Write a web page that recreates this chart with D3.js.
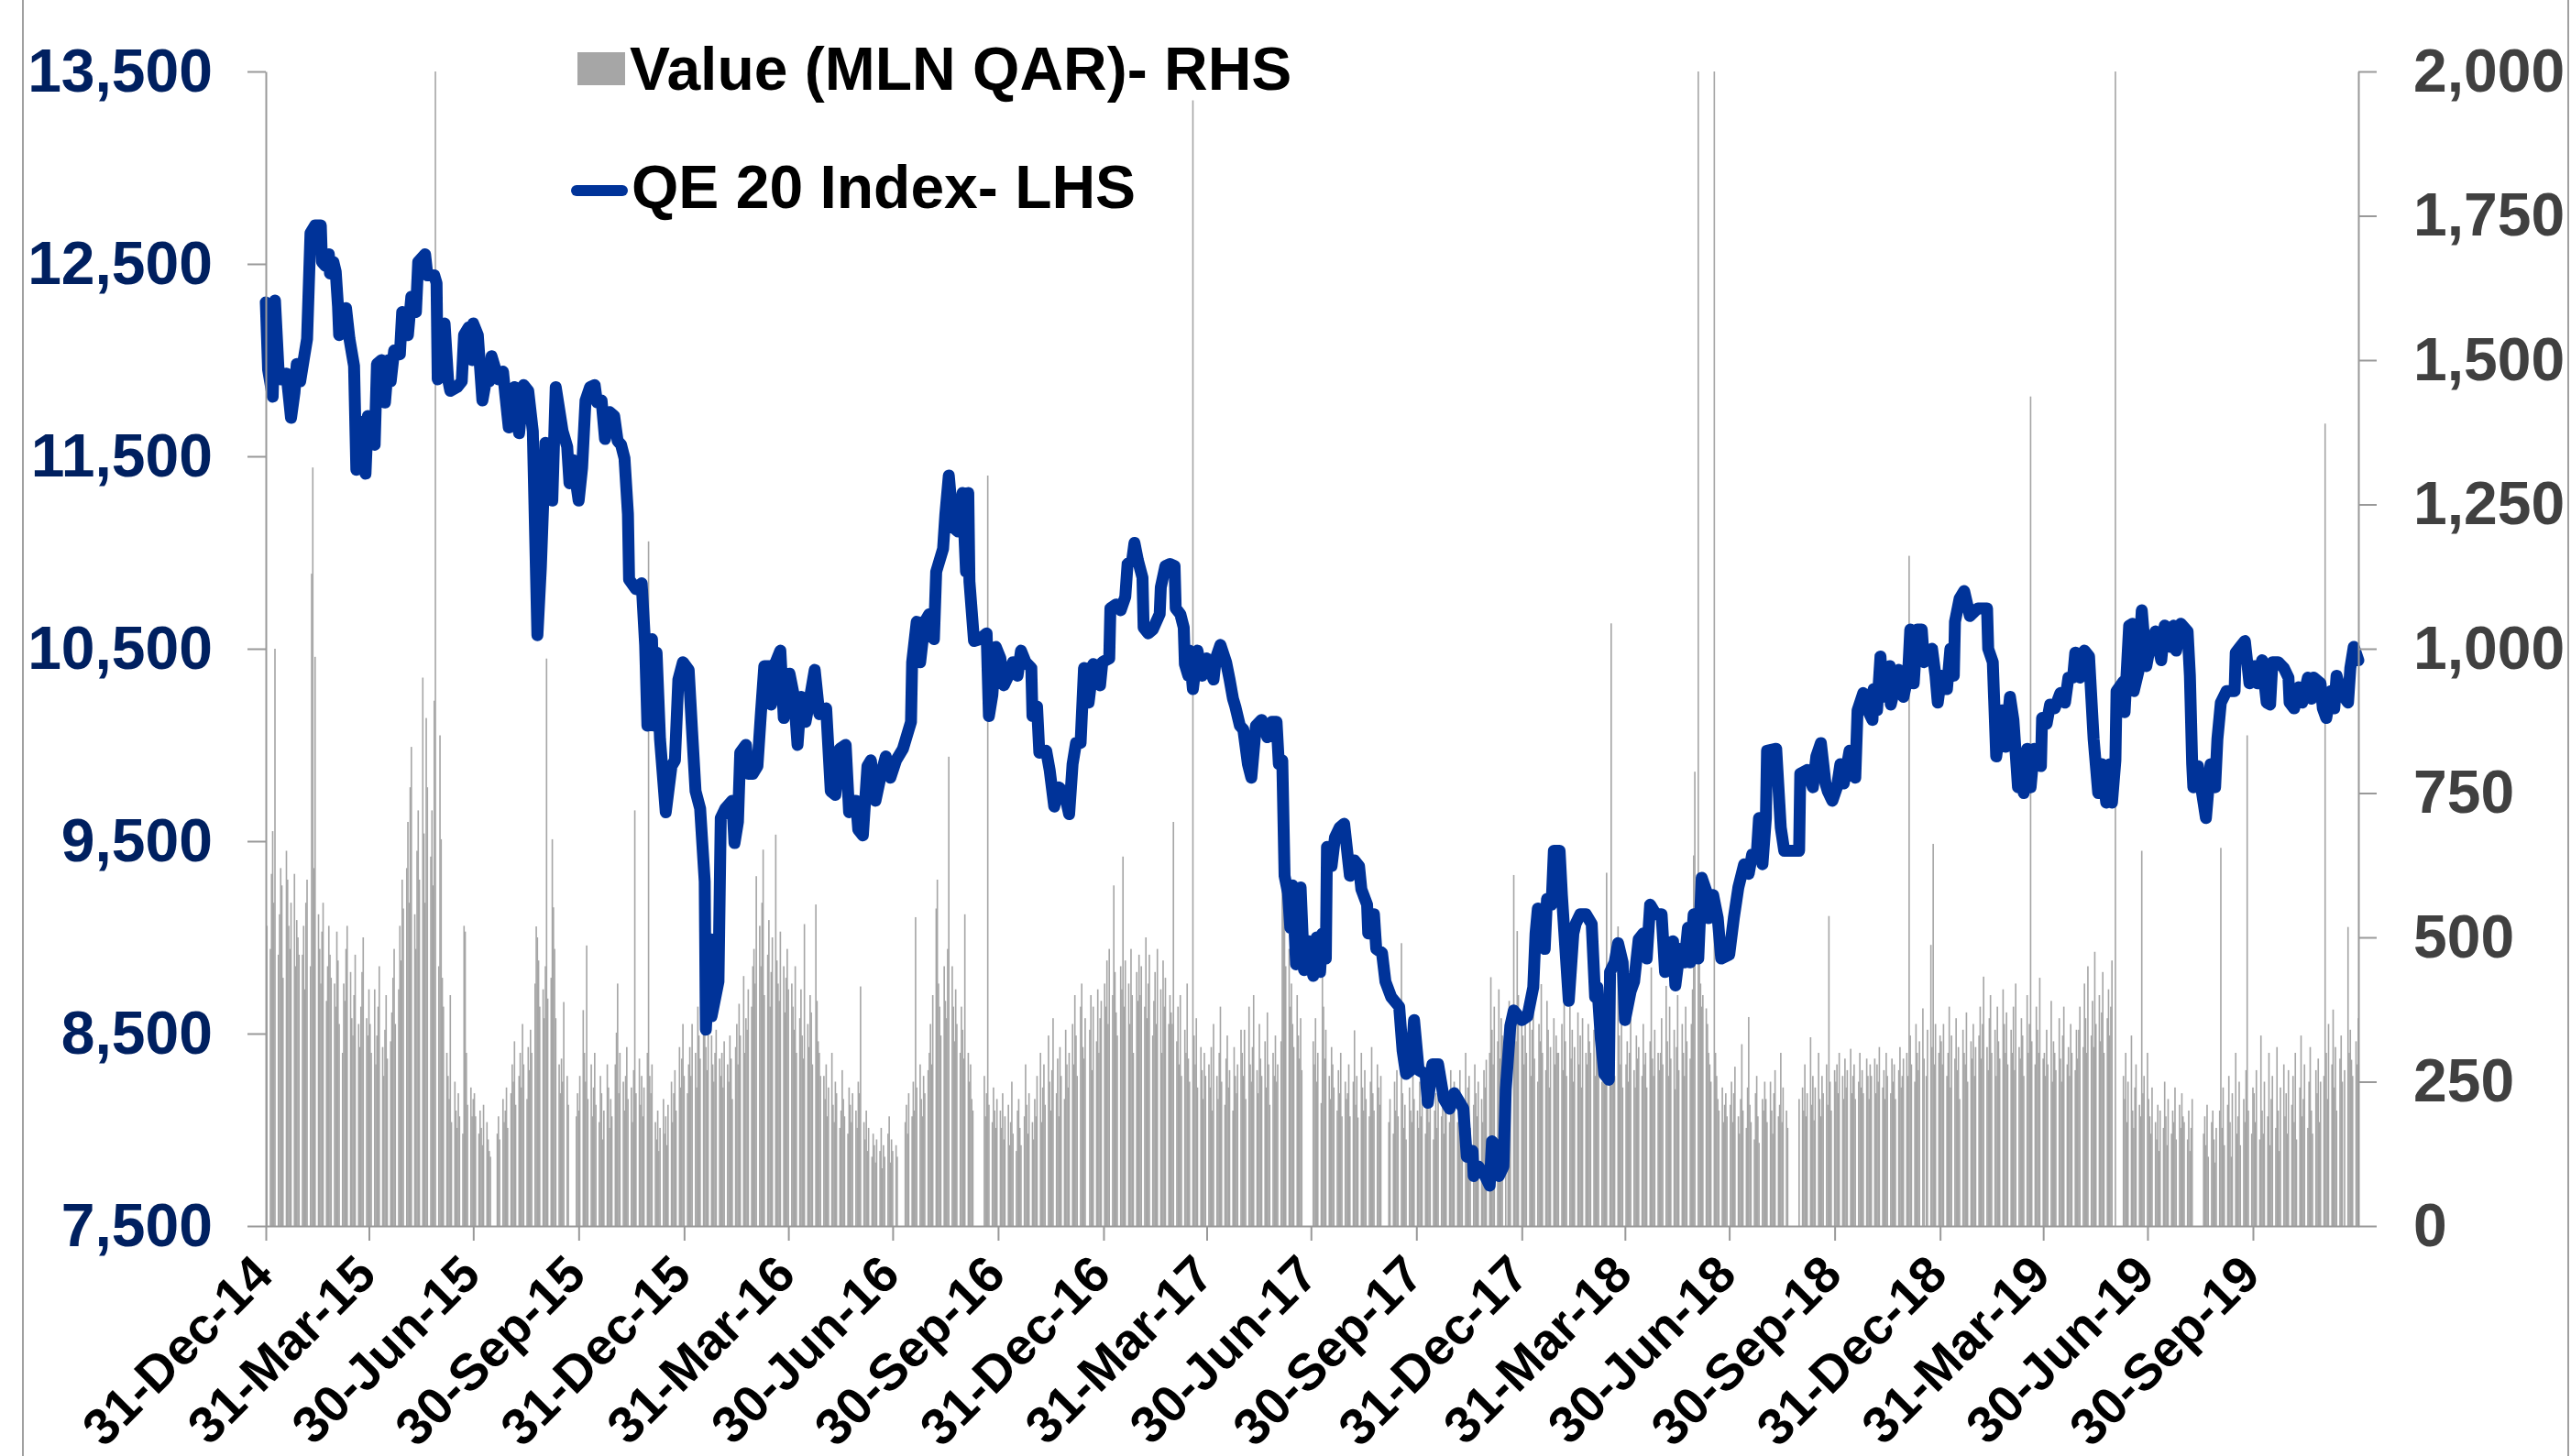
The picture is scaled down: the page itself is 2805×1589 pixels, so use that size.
<!DOCTYPE html>
<html>
<head>
<meta charset="utf-8">
<script src="https://cdn.jsdelivr.net/npm/d3@7"></script>
<style>
  body { margin: 0; background: #fff; }
  svg { display: block; }
</style>
</head>
<body>
<svg width="2805" height="1589"></svg>
<script>
// QE 20 index vs traded value, daily, 31-Dec-14 .. 31-Dec-19

const startDate = new Date(2014, 11, 31);
const endDate = new Date(2019, 11, 31);

const leftTicks = [7500, 8500, 9500, 10500, 11500, 12500, 13500];
const rightTicks = [0, 250, 500, 750, 1000, 1250, 1500, 1750, 2000];
const quarterTicks = [
  '2014-12-31', '2015-03-31', '2015-06-30', '2015-09-30', '2015-12-31',
  '2016-03-31', '2016-06-30', '2016-09-30', '2016-12-31',
  '2017-03-31', '2017-06-30', '2017-09-30', '2017-12-31',
  '2018-03-31', '2018-06-30', '2018-09-30', '2018-12-31',
  '2019-03-31', '2019-06-30', '2019-09-30'
];

const legendLabels = ['Value (MLN QAR)- RHS', 'QE 20 Index- LHS'];

// [days after 31-Dec-14, index level]
const qeIndex = [
  [0,12300],[2,11950],[6,11810],[8,12310],[11,11960],[13,11900],[15,11910],[18,11930],[22,11700],[25,11830],
  [27,11980],[30,11890],[33,12000],[36,12110],[39,12660],[43,12700],[48,12700],[49,12510],[52,12490],[55,12550],
  [56,12450],[59,12510],[61,12460],[63,12280],[64,12130],[67,12200],[70,12270],[73,12110],[77,11970],[79,11430],
  [82,11680],[84,11520],[87,11410],[89,11710],[92,11600],[95,11560],[97,11980],[101,12000],[104,11780],[107,12000],
  [109,11890],[112,12050],[117,12030],[119,12250],[124,12130],[127,12330],[131,12250],[133,12510],[139,12550],[141,12440],
  [147,12440],[149,12400],[150,11900],[152,12140],[156,12190],[159,11900],[161,11840],[167,11860],[171,11890],[173,12130],
  [177,12170],[180,12000],[181,12190],[185,12130],[189,11790],[192,11890],[195,11890],[197,12020],[203,11900],[207,11940],
  [209,11820],[212,11650],[217,11860],[221,11620],[225,11870],[229,11840],[233,11630],[237,10570],[240,10920],[244,11570],
  [248,11330],[250,11270],[253,11860],[259,11630],[263,11550],[265,11360],[268,11480],[273,11270],[276,11440],[279,11790],
  [283,11860],[287,11870],[289,11780],[293,11790],[296,11590],[300,11730],[304,11710],[307,11580],[310,11560],[313,11490],
  [316,11200],[317,10860],[323,10810],[328,10840],[331,10520],[333,10100],[337,10550],[339,10100],[341,10480],[344,10030],
  [349,9650],[354,9890],[357,9920],[360,10340],[364,10430],[369,10390],[372,10070],[375,9760],[379,9670],[383,9290],
  [384,8520],[388,8990],[389,8590],[395,8770],[397,9620],[401,9670],[407,9710],[409,9490],[412,9600],[414,9960],
  [419,10000],[421,9850],[425,9850],[429,9890],[432,10160],[435,10410],[440,10410],[441,10210],[445,10430],[449,10490],
  [452,10140],[457,10370],[461,10250],[464,10000],[467,10250],[471,10120],[475,10250],[479,10390],[483,10160],[489,10190],
  [493,9760],[497,9740],[501,9980],[506,10000],[509,9650],[515,9710],[517,9560],[521,9530],[525,9890],[528,9920],
  [532,9710],[537,9850],[541,9940],[545,9830],[550,9920],[556,9980],[563,10120],[564,10430],[568,10640],[571,10430],
  [575,10640],[579,10680],[583,10550],[585,10900],[591,11020],[593,11200],[596,11400],[600,11130],[604,11110],[608,11310],
  [611,10900],[613,11310],[614,10850],[618,10540],[623,10550],[629,10580],[631,10150],[634,10260],[637,10510],[641,10450],
  [644,10310],[648,10360],[652,10430],[656,10360],[659,10490],[663,10430],[668,10400],[669,10150],[673,10200],[675,9960],
  [681,9970],[684,9870],[688,9680],[692,9780],[697,9750],[701,9640],[704,9900],[707,10010],[711,10010],[714,10400],
  [718,10220],[722,10420],[728,10310],[730,10430],[736,10450],[737,10710],[742,10730],[746,10700],[750,10770],[752,10940],
  [756,10960],[758,11050],[761,10960],[765,10870],[766,10610],[770,10580],[774,10600],[780,10680],[781,10820],[785,10930],
  [789,10940],[793,10930],[794,10710],[798,10680],[801,10610],[802,10420],[805,10360],[806,10490],[809,10290],[813,10490],
  [817,10360],[821,10450],[827,10340],[829,10450],[833,10520],[838,10430],[841,10340],[844,10240],[846,10200],[850,10100],
  [853,10080],[857,9900],[860,9830],[864,10100],[869,10130],[874,10040],[878,10120],[882,10120],[884,9900],[887,9920],
  [889,9320],[892,9230],[894,9050],[896,9270],[899,8860],[903,9260],[906,8830],[910,8980],[914,8800],[917,9000],
  [920,8820],[922,9020],[925,8890],[926,9470],[930,9370],[933,9520],[937,9570],[941,9590],[946,9320],[950,9400],
  [954,9370],[956,9250],[961,9170],[962,9020],[967,9120],[969,8940],[974,8920],[977,8770],[982,8690],[989,8640],
  [992,8410],[995,8290],[999,8310],[1002,8570],[1006,8310],[1012,8290],[1014,8140],[1018,8340],[1023,8340],[1028,8160],
  [1033,8110],[1037,8190],[1045,8110],[1048,7860],[1053,7890],[1054,7760],[1058,7810],[1064,7760],[1068,7710],[1070,7940],
  [1074,7910],[1076,7760],[1080,7810],[1082,8210],[1086,8540],[1089,8620],[1096,8570],[1101,8590],[1106,8740],[1108,9020],
  [1110,9150],[1116,8940],[1118,9200],[1122,9170],[1124,9450],[1129,9450],[1131,9220],[1137,8670],[1141,9020],[1143,9070],
  [1147,9120],[1152,9120],[1157,9070],[1160,8690],[1162,8740],[1165,8470],[1168,8290],[1172,8260],[1173,8820],[1177,8870],
  [1180,8970],[1184,8870],[1186,8570],[1191,8720],[1194,8770],[1198,8990],[1202,9020],[1205,8890],[1208,9170],[1213,9120],
  [1218,9120],[1221,8820],[1225,8970],[1228,8980],[1230,8750],[1234,8940],[1238,8870],[1241,9050],[1243,8870],[1246,9120],
  [1250,8890],[1253,9310],[1257,9240],[1259,9100],[1263,9220],[1267,9100],[1270,8890],[1277,8910],[1281,9100],[1285,9260],
  [1290,9380],[1294,9330],[1297,9430],[1301,9430],[1303,9620],[1306,9380],[1309,9620],[1310,9970],[1318,9980],[1322,9570],
  [1325,9450],[1338,9450],[1339,9850],[1345,9870],[1350,9780],[1353,9940],[1357,10010],[1361,9800],[1363,9760],[1367,9710],
  [1371,9780],[1374,9900],[1377,9800],[1382,9970],[1387,9830],[1389,10180],[1394,10270],[1398,10180],[1402,10130],[1403,10290],
  [1406,10180],[1409,10460],[1411,10250],[1417,10410],[1418,10210],[1425,10390],[1429,10250],[1433,10360],[1435,10600],[1438,10320],
  [1441,10600],[1445,10600],[1447,10430],[1454,10500],[1457,10360],[1459,10220],[1462,10360],[1467,10290],[1470,10500],[1473,10360],
  [1474,10640],[1478,10760],[1482,10800],[1487,10670],[1494,10710],[1502,10710],[1503,10500],[1507,10430],[1510,9940],[1515,10180],
  [1518,9990],[1522,10250],[1525,10130],[1529,9780],[1532,9900],[1534,9750],[1537,9980],[1540,9780],[1543,9980],[1549,9890],
  [1550,10140],[1554,10110],[1557,10210],[1561,10190],[1566,10270],[1570,10220],[1573,10350],[1577,10350],[1579,10480],[1583,10350],
  [1587,10490],[1591,10460],[1595,10030],[1599,9750],[1602,9900],[1606,9700],[1609,9900],[1611,9700],[1614,9920],[1615,10280],
  [1621,10330],[1622,10170],[1626,10620],[1629,10630],[1630,10280],[1634,10380],[1637,10700],[1641,10410],[1645,10540],[1649,10590],
  [1654,10440],[1657,10620],[1662,10510],[1665,10620],[1667,10490],[1671,10630],[1677,10590],[1679,10360],[1681,9900],[1682,9780],
  [1686,9890],[1693,9620],[1697,9900],[1701,9780],[1703,10030],[1706,10220],[1711,10280],[1718,10280],[1719,10480],[1723,10510],
  [1727,10540],[1731,10320],[1735,10410],[1738,10320],[1742,10440],[1746,10220],[1749,10210],[1751,10430],[1756,10430],[1761,10400],
  [1765,10350],[1766,10220],[1770,10190],[1774,10300],[1777,10220],[1782,10350],[1785,10240],[1787,10350],[1793,10320],[1795,10190],
  [1798,10140],[1802,10280],[1805,10190],[1807,10360],[1811,10270],[1817,10220],[1819,10400],[1822,10510],[1826,10440]
];

// traded value, MLN QAR, one list per month (Sun-Thu sessions in order), Jan-15 .. Dec-19
const valueByMonth = [
  [520,480,610,684,560,1000,470,540,620,590,430,650,600,520,480,560,610,450,530,500,470],
  [470,520,410,560,600,450,1130,1314,620,986,540,480,420,510,560,390,450,520,470,430],
  [420,380,510,460,350,300,420,390,480,520,440,360,330,400,470,350,310,380,440,500,360,330,410],
  [350,300,410,280,330,380,450,310,260,340,400,290,320,370,430,480,350,410,520,460,600,550],
  [620,700,560,760,830,540,480,650,720,600,950,680,560,880,760,640,720,590,910,2600,450],
  [850,670,430,380,300,260,220,400,180,250,200,170,230,190,160,520,510,300,210,240,190,220],
  [230,190,160,200,170,140,210,180,150,130,120,0,0,0,160,190,150,220,180,200,240,170],
  [230,280,250,320,210,260,300,240,350,280,220,310,270,340,300,420,519,500,460,380,410,360],
  [450,983,394,430,670,552,480,360,280,230,290,250,388,260,210,0,0,0,0,190,230,200],
  [260,374,300,250,486,220,280,190,240,300,210,180,260,230,150,200,280,240,170,220,190],
  [280,335,420,230,300,250,200,260,310,220,240,180,270,720,230,290,210,260,190,240,300,1186],
  [260,230,280,180,150,200,130,170,220,160,190,140,210,250,180,230,270,200,310,240,290,350,260],
  [230,280,310,260,350,300,240,380,330,290,397,350,310,270,360,330,280,250,300,340,290],
  [260,300,240,320,280,250,330,290,220,310,350,280,385,330,433,300,360,340,410,380,450],
  [480,420,606,520,450,560,652,400,470,530,380,440,500,678,460,420,390,510,450,370,430,480,410],
  [420,380,340,450,300,360,410,330,290,523,350,310,400,370,280,557,390,320,300,260],
  [260,220,280,190,240,300,210,180,250,230,170,200,270,220,190,160,240,210,180,230,200,170,250],
  [230,415,180,150,200,130,170,120,160,140,110,150,130,170,100,140,120,160,190,110,150,130],
  [140,120,0,0,0,0,180,210,160,230,190,250,200,535,240,280,220,190,260,230,270],
  [300,350,280,400,550,600,420,380,330,450,390,360,480,813,450,380,320,410,350,300,380,340,290],
  [540,300,250,280,220,200,0,0,0,0,0,260,190,230,1300,210,180,240,200,170,220],
  [200,170,230,150,190,210,140,180,250,160,130,200,220,170,140,190,280,210,160,230,180,150],
  [220,190,260,300,180,240,280,210,330,250,200,270,360,230,290,190,310,260,220,340,280,240],
  [300,350,280,400,330,260,380,420,310,290,360,0,340,400,270,380,320,410,300,360,390],
  [420,380,460,350,480,400,590,440,370,330,450,410,640,380,460,420,350,480,400,300,440,390,470],
  [400,450,380,500,360,420,470,330,390,440,350,480,410,300,460,380,430,350,400,370],
  [350,700,320,380,280,400,260,340,300,420,290,250,1950,330,280,360,240,310,270,220,300,260],
  [280,240,310,200,350,260,220,300,380,250,210,290,330,240,270,200,310,260,230,280,340],
  [300,260,340,220,380,280,250,310,400,270,230,350,290,260,320,240,370,280,210,300,260,330,250],
  [280,320,850,700,520,450,480,380,420,350,310,400,330,290,360,270,0,0,0,0,0],
  [320,280,360,250,300,213,431,380,290,340,260,220,310,280,240,200,270,230,300,190,250,220],
  [230,280,190,250,339,210,260,188,300,240,200,270,220,190,250,310,230,200,280,240,210,260,0],
  [0,0,0,180,220,160,250,200,270,190,490,230,170,210,150,240,200,180,260,220],
  [200,170,250,190,220,160,280,210,180,240,150,200,230,170,260,190,210,160,250,220,180,270,200],
  [210,250,180,230,270,160,220,300,190,240,260,170,210,280,230,190,250,220,180,270,240,288],
  [300,431,340,280,380,320,410,290,360,330,300,0,350,390,280,608,370,320,511,400,350],
  [330,280,360,300,410,260,340,380,290,250,350,320,419,300,270,390,340,240,310,360,280,330,300],
  [300,350,270,400,320,260,380,290,340,250,310,370,280,330,240,360,300,280,350,320],
  [300,340,260,380,290,320,250,400,280,310,612,270,1044,350,300,260,519,330,280,360,240],
  [280,320,250,300,360,270,240,330,290,310,260,350,280,300,240,320,448,290,260,340,300,270],
  [300,360,280,416,320,260,380,290,340,237,310,400,270,350,300,260,380,320,290,350,410,642,787],
  [2400,455,420,380,400,377,350,300,280,250,2400,300,260,220,200,240,180,210,230,190],
  [210,250,180,230,276,190,160,220,315,200,170,240,362,210,180,150,230,260,190,144,220,200,250],
  [220,180,250,200,160,230,270,190,210,300,180,240,200,170,0,0,0,0,0,0,0,220],
  [240,200,280,190,230,327,210,260,183,240,300,220,190,260,230,280,210,537,250,200,270],
  [250,280,230,300,260,220,290,240,270,307,230,260,280,220,250,300,240,270,230,290,260,220,280],
  [260,290,230,280,250,310,240,270,220,300,260,230,290,250,280,220,270,310,240,260,290],
  [300,260,1161,330,280,250,350,300,270,320,377,290,0,260,340,487,310,662,280,350,300,330],
  [320,280,350,260,300,380,240,330,290,360,270,310,220,340,300,280,370,250,320,290,350,260,310],
  [330,380,290,350,432,310,270,360,400,300,340,260,380,320,290,410,350,300,370,280],
  [340,300,380,270,420,310,290,360,330,260,400,300,350,1437,320,280,380,340,300,430,290],
  [300,260,340,280,390,250,320,300,270,360,290,250,330,380,280,310,260,350,300,270,340,290],
  [340,380,310,420,360,300,450,330,390,310,475,350,400,320,370,440,300,360,410,330,380,460],
  [2400,0,0,0,0,260,220,300,180,250,330,200,170,240,280,210,190,650,230,260,300],
  [220,190,160,240,180,150,210,130,200,170,250,190,140,220,160,200,180,240,150,210,170,230,190],
  [180,150,200,130,170,220,0,0,0,0,0,160,190,140,210,120,180,200,150,110,170],
  [200,655,170,240,140,210,260,180,120,230,300,160,190,250,140,220,180,270,850,200,160,240],
  [230,180,270,150,330,200,160,250,190,300,140,220,260,170,310,200,130,240,280,190,230,160,270],
  [210,260,180,300,150,240,330,190,220,280,170,250,310,200,160,270,230,290,180,250],
  [260,1390,300,220,350,280,375,240,310,200,290,330,250,0,270,518,300,340,288,260,320,280,360]
];

const font = '"Liberation Sans", Arial, sans-serif';
const barColor = '#a6a6a6';
const lineColor = '#003399';
const axisColor = '#999999';

const svg = d3.select('svg');

const plot = { left: 290, right: 2573, top: 78, bottom: 1338 };

const x = d3.scaleTime().domain([startDate, endDate]).range([plot.left, plot.right]);
const yL = d3.scaleLinear().domain([7500, 13500]).range([plot.bottom, plot.top]);
const yR = d3.scaleLinear().domain([0, 2000]).range([plot.bottom, plot.top]).clamp(true);

// sessions: Sunday to Thursday
const bars = [];
valueByMonth.forEach((vals, m) => {
  const first = new Date(2015, m, 1);
  const days = d3.timeDay.range(first, d3.timeMonth.offset(first, 1))
    .filter(d => d.getDay() !== 5 && d.getDay() !== 6);
  days.forEach((d, i) => {
    if (i < vals.length && vals[i] > 0) bars.push({ date: d, value: vals[i] });
  });
});

const dayWidth = x(d3.timeDay.offset(startDate, 1)) - x(startDate);
const barWidth = dayWidth * 1.3;

// frame
svg.append('rect').attr('width', 2805).attr('height', 1589).attr('fill', '#fff');
[25, 2802].forEach(fx => {
  svg.append('line')
    .attr('x1', fx).attr('x2', fx).attr('y1', 0).attr('y2', 1589)
    .attr('stroke', '#a0a0a0').attr('stroke-width', 2);
});

// bars
svg.append('g')
  .selectAll('rect')
  .data(bars)
  .enter().append('rect')
    .attr('x', d => x(d.date) - barWidth / 2)
    .attr('width', barWidth)
    .attr('y', d => yR(d.value))
    .attr('height', d => yR(0) - yR(d.value))
    .attr('fill', barColor);

// index line
const line = d3.line()
  .x(d => x(d3.timeDay.offset(startDate, d[0])))
  .y(d => yL(d[1]));

svg.append('path')
  .datum(qeIndex)
  .attr('d', line)
  .attr('fill', 'none')
  .attr('stroke', lineColor)
  .attr('stroke-width', 13)
  .attr('stroke-linejoin', 'round')
  .attr('stroke-linecap', 'round');

// axes
function styleAxis(g, color, size) {
  g.select('.domain').attr('stroke', axisColor).attr('stroke-width', 2);
  g.selectAll('.tick line').attr('stroke', axisColor).attr('stroke-width', 2);
  g.selectAll('.tick text')
    .attr('fill', color)
    .style('font-family', font)
    .style('font-weight', 'bold')
    .style('font-size', size + 'px');
}

const gLeft = svg.append('g')
  .attr('transform', `translate(${plot.left},0)`)
  .call(d3.axisLeft(yL).tickValues(leftTicks).tickFormat(d3.format(','))
    .tickSize(20).tickSizeOuter(0).tickPadding(38));
styleAxis(gLeft, '#002060', 66);

const gRight = svg.append('g')
  .attr('transform', `translate(${plot.right},0)`)
  .call(d3.axisRight(yR).tickValues(rightTicks).tickFormat(d3.format(','))
    .tickSize(20).tickSizeOuter(0).tickPadding(40));
styleAxis(gRight, '#404040', 66);

const parse = d3.timeParse('%Y-%m-%d');
const gBottom = svg.append('g')
  .attr('transform', `translate(0,${plot.bottom})`)
  .call(d3.axisBottom(x).tickValues(quarterTicks.map(parse))
    .tickFormat(d3.timeFormat('%d-%b-%y')).tickSize(16).tickSizeOuter(0));
styleAxis(gBottom, '#000000', 56);
gBottom.selectAll('.tick text')
  .attr('x', 0).attr('y', 0).attr('dy', 0)
  .attr('text-anchor', 'end')
  .attr('transform', 'translate(10,56) rotate(-45)');

// legend
const legend = svg.append('g');
legend.append('rect')
  .attr('x', 630).attr('y', 57).attr('width', 52).attr('height', 36)
  .attr('fill', barColor);
legend.append('line')
  .attr('x1', 629).attr('x2', 679).attr('y1', 208).attr('y2', 208)
  .attr('stroke', lineColor).attr('stroke-width', 12).attr('stroke-linecap', 'round');
legend.selectAll('text')
  .data(legendLabels)
  .enter().append('text')
    .attr('x', (d, i) => i === 0 ? 687 : 689)
    .attr('y', (d, i) => i === 0 ? 98 : 227)
    .attr('fill', '#000')
    .style('font-family', font)
    .style('font-weight', 'bold')
    .style('font-size', '66px')
    .text(d => d);
</script>
</body>
</html>
